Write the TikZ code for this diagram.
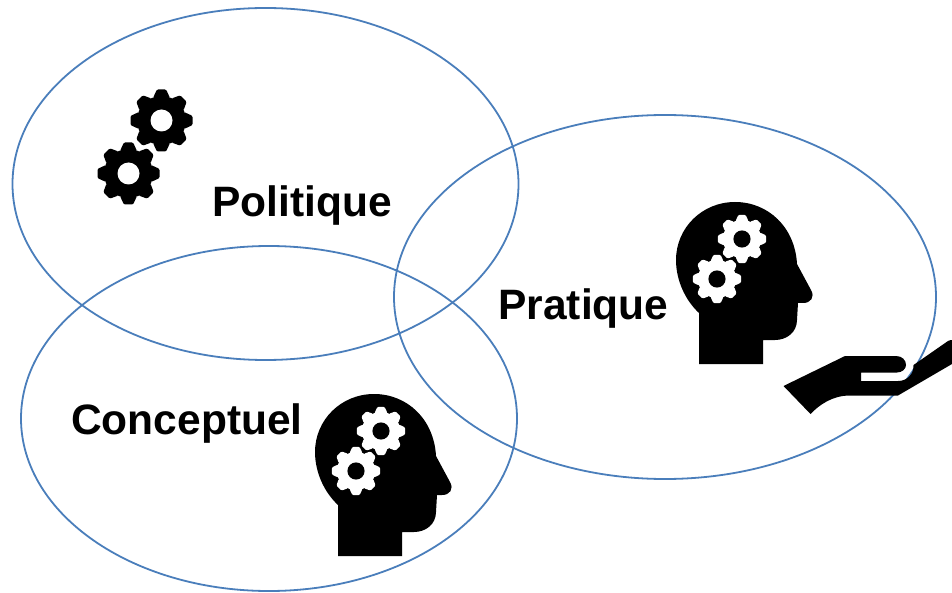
\documentclass[tikz,border=0pt]{standalone}
\usepackage{xcolor}
\usepackage{fontspec}
\setmainfont{Liberation Sans}
\definecolor{ringblue}{HTML}{4A7EBB}

\begin{document}
\begin{tikzpicture}[x=1pt,y=-1pt]
		
		\tikzset{
			ring/.style={draw=ringblue, line width=1.8pt},
			label/.style={font=\fontsize{42.5}{50}\selectfont\bfseries, anchor=base, inner sep=0pt},
			pics/gearicon/.style 2 args={code={
				\fill[#1] (0,0) circle (24.5);
				\foreach \a in {0,45,...,315}{
					\fill[#1, rotate=\a, rounded corners=1.2pt] (-8.5,-22.5) -- (-4.6,-31) -- (4.6,-31) -- (8.5,-22.5) -- cycle;
				}
				\fill[#2] (0,0) circle (11);
			}},
			pics/headicon/.style={code={
				\fill[black] (-36,104) -- (-36,53)
				.. controls (-50,40) and (-59,20) .. (-59,0)
				.. controls (-59,-32) and (-33,-58) .. (0,-58)
				.. controls (33,-58) and (60,-33) .. (62,4)
				-- (76,30)
				.. controls (80,37) and (76,43) .. (68,43)
				-- (63,43) -- (62,60)
				.. controls (62,72) and (52,80) .. (40,80)
				-- (28,80) -- (28,104) -- cycle;
				\pic[scale=0.78] at (7,-21) {gearicon={white}{black}};
				\pic[scale=0.78] at (-18,19) {gearicon={white}{black}};
			}}
		}
		
		\useasboundingbox (0,0) rectangle (952,593);
		
		% ===== ELLIPSES =====
		\draw[ring] (265.5,184) ellipse (253 and 176);
		\draw[ring] (269,418.5) ellipse (248 and 172.5);
		\draw[ring] (665,297) ellipse (271 and 182);
		
		% ===== LABELS =====
		\node[label] (politique) at (302,216.5) {Politique};
		\node[label] (pratique) at (583.5,319.5) {Pratique};
		\node[label] (conceptuel) at (187,434) {Conceptuel};
		
		% ===== ICONS =====
		\pic at (161.5,120.5) {gearicon={black}{white}};
		\pic at (128.5,173.5) {gearicon={black}{white}};
		\pic at (735,260) {headicon};
		\pic at (374,452) {headicon};
		
		% ===== HAND =====
		\fill[black] (783.5,386) -- (845,356) -- (896,356)
		.. controls (902,356) and (906,360) .. (906,365)
		.. controls (906,369) and (902,372.5) .. (897,372.5)
		-- (861,372.5) -- (861,381) -- (898,381)
		.. controls (908,381) and (914,373) .. (913.5,365)
		-- (948,341) .. controls (950,340) and (951,340) .. (952,340)
		-- (952,364) -- (898,395.5) -- (848,395.5)
		.. controls (833,396) and (820,404) .. (810.5,414) -- cycle;
		
	\end{tikzpicture}
\end{document}
